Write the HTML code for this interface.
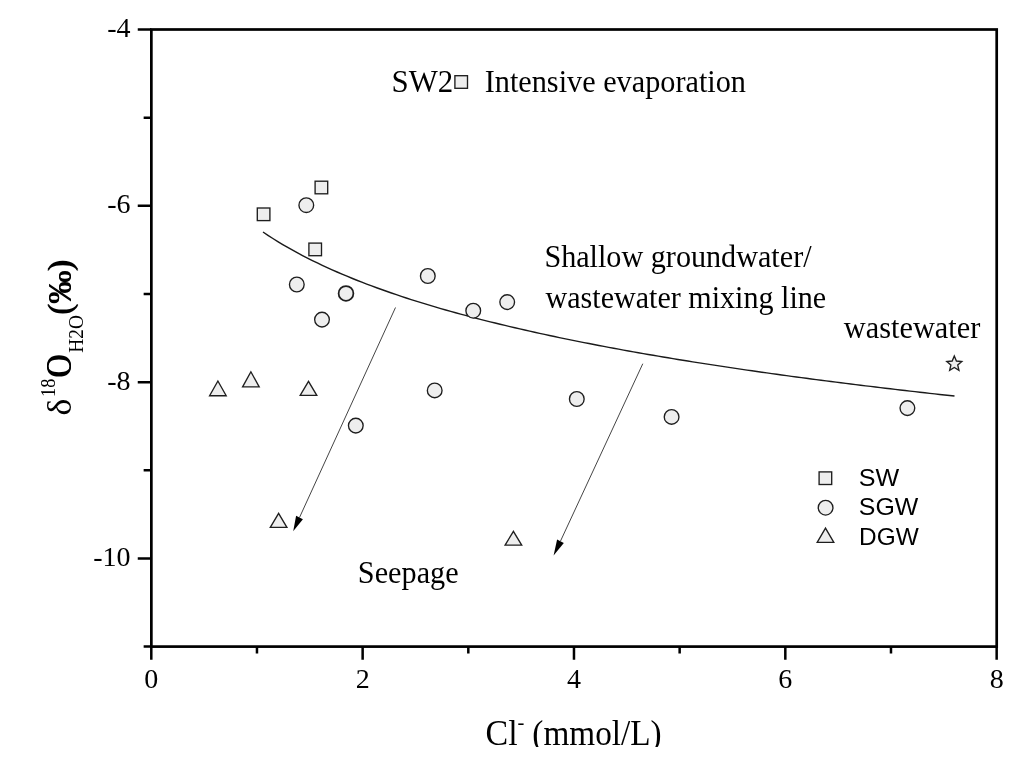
<!DOCTYPE html>
<html><head><meta charset="utf-8"><style>
html,body{margin:0;padding:0;background:#fff;}
svg{display:block;will-change:transform;}
</style></head><body>
<svg width="1024" height="760" viewBox="0 0 1024 760">
<rect width="1024" height="760" fill="#fff"/>
<clipPath id="cb"><rect x="0" y="0" width="1024" height="747"/></clipPath>
<polyline points="263.00,231.99 267.94,235.30 272.88,238.48 277.82,241.56 282.76,244.53 287.70,247.41 292.64,250.20 297.57,252.90 302.51,255.53 307.45,258.08 312.39,260.56 317.33,262.97 322.27,265.32 327.21,267.61 332.15,269.84 337.09,272.01 342.03,274.14 346.97,276.21 351.91,278.24 356.85,280.23 361.79,282.17 366.73,284.07 371.66,285.92 376.60,287.75 381.54,289.53 386.48,291.28 391.42,293.00 396.36,294.68 401.30,296.34 406.24,297.96 411.18,299.55 416.12,301.12 421.06,302.66 426.00,304.17 430.94,305.66 435.88,307.12 440.81,308.56 445.75,309.98 450.69,311.37 455.63,312.75 460.57,314.10 465.51,315.43 470.45,316.75 475.39,318.04 480.33,319.31 485.27,320.57 490.21,321.81 495.15,323.03 500.09,324.24 505.02,325.43 509.96,326.61 514.90,327.77 519.84,328.91 524.78,330.04 529.72,331.16 534.66,332.26 539.60,333.35 544.54,334.42 549.48,335.49 554.42,336.54 559.36,337.58 564.30,338.60 569.24,339.62 574.17,340.62 579.11,341.61 584.05,342.59 588.99,343.56 593.93,344.52 598.87,345.47 603.81,346.41 608.75,347.34 613.69,348.26 618.63,349.17 623.57,350.08 628.51,350.97 633.45,351.85 638.39,352.73 643.33,353.60 648.26,354.45 653.20,355.30 658.14,356.15 663.08,356.98 668.02,357.81 672.96,358.63 677.90,359.44 682.84,360.24 687.78,361.04 692.72,361.83 697.66,362.61 702.60,363.39 707.54,364.16 712.48,364.92 717.41,365.68 722.35,366.43 727.29,367.18 732.23,367.91 737.17,368.65 742.11,369.37 747.05,370.09 751.99,370.81 756.93,371.51 761.87,372.22 766.81,372.92 771.75,373.61 776.69,374.29 781.62,374.98 786.56,375.65 791.50,376.32 796.44,376.99 801.38,377.65 806.32,378.31 811.26,378.96 816.20,379.61 821.14,380.25 826.08,380.89 831.02,381.52 835.96,382.15 840.90,382.77 845.84,383.39 850.77,384.01 855.71,384.62 860.65,385.23 865.59,385.83 870.53,386.43 875.47,387.03 880.41,387.62 885.35,388.21 890.29,388.79 895.23,389.37 900.17,389.95 905.11,390.52 910.05,391.09 914.99,391.65 919.92,392.21 924.86,392.77 929.80,393.33 934.74,393.88 939.68,394.43 944.62,394.97 949.56,395.51 954.50,396.05" fill="none" stroke="#1a1a1a" stroke-width="1.4"/>
<line x1="395.5" y1="307.5" x2="299.50" y2="517.50" stroke="#454545" stroke-width="1.0"/>
<polygon points="293.2,531.3 296.1,515.8 302.9,519.2" fill="#000"/>
<line x1="642.8" y1="363.7" x2="560.45" y2="541.20" stroke="#454545" stroke-width="1.0"/>
<polygon points="553.6,555.4 557.1,539.5 563.8,542.9" fill="#000"/>
<circle cx="306.3" cy="205.2" r="7.35" fill="#eeeeee" stroke="#1e1e1e" stroke-width="1.35"/>
<circle cx="296.8" cy="284.5" r="7.35" fill="#eeeeee" stroke="#1e1e1e" stroke-width="1.35"/>
<circle cx="322" cy="319.6" r="7.35" fill="#eeeeee" stroke="#1e1e1e" stroke-width="1.35"/>
<circle cx="355.8" cy="425.6" r="7.35" fill="#eeeeee" stroke="#1e1e1e" stroke-width="1.35"/>
<circle cx="427.8" cy="276" r="7.35" fill="#eeeeee" stroke="#1e1e1e" stroke-width="1.35"/>
<circle cx="473.25" cy="310.7" r="7.35" fill="#eeeeee" stroke="#1e1e1e" stroke-width="1.35"/>
<circle cx="507.2" cy="302.1" r="7.35" fill="#eeeeee" stroke="#1e1e1e" stroke-width="1.35"/>
<circle cx="434.7" cy="390.4" r="7.35" fill="#eeeeee" stroke="#1e1e1e" stroke-width="1.35"/>
<circle cx="576.8" cy="399" r="7.35" fill="#eeeeee" stroke="#1e1e1e" stroke-width="1.35"/>
<circle cx="671.6" cy="416.9" r="7.35" fill="#eeeeee" stroke="#1e1e1e" stroke-width="1.35"/>
<circle cx="907.4" cy="408.1" r="7.35" fill="#eeeeee" stroke="#1e1e1e" stroke-width="1.35"/>
<circle cx="346" cy="293.4" r="7.4" fill="#eeeeee" stroke="#1e1e1e" stroke-width="1.75"/>
<rect x="257.30" y="208.00" width="12.6" height="12.6" fill="#eeeeee" stroke="#1e1e1e" stroke-width="1.35"/>
<rect x="315.10" y="181.20" width="12.6" height="12.6" fill="#eeeeee" stroke="#1e1e1e" stroke-width="1.35"/>
<rect x="308.90" y="243.10" width="12.6" height="12.6" fill="#eeeeee" stroke="#1e1e1e" stroke-width="1.35"/>
<rect x="454.90" y="75.70" width="12.6" height="12.6" fill="#eeeeee" stroke="#1e1e1e" stroke-width="1.35"/>
<polygon points="217.9,381.00 209.60,395.72 226.20,395.72" fill="#eeeeee" stroke="#1e1e1e" stroke-width="1.35"/>
<polygon points="250.9,371.80 242.60,386.93 259.20,386.93" fill="#eeeeee" stroke="#1e1e1e" stroke-width="1.35"/>
<polygon points="308.5,381.30 300.20,395.32 316.80,395.32" fill="#eeeeee" stroke="#1e1e1e" stroke-width="1.35"/>
<polygon points="278.6,513.30 270.30,527.33 286.90,527.33" fill="#eeeeee" stroke="#1e1e1e" stroke-width="1.35"/>
<polygon points="513.4,531.30 505.10,545.12 521.70,545.12" fill="#eeeeee" stroke="#1e1e1e" stroke-width="1.35"/>
<polygon points="954.30,356.00 956.42,360.99 961.81,361.46 957.72,365.01 958.94,370.29 954.30,367.50 949.66,370.29 950.88,365.01 946.79,361.46 952.18,360.99" fill="#eeeeee" stroke="#1e1e1e" stroke-width="1.35"/>
<rect x="819.10" y="471.90" width="12.6" height="12.6" fill="#eeeeee" stroke="#1e1e1e" stroke-width="1.35"/>
<circle cx="825.6" cy="507.7" r="7.35" fill="#eeeeee" stroke="#1e1e1e" stroke-width="1.35"/>
<polygon points="825.5,528.20 817.20,542.33 833.80,542.33" fill="#eeeeee" stroke="#1e1e1e" stroke-width="1.35"/>
<rect x="151.35" y="29.5" width="845.35" height="617.10" fill="none" stroke="#000" stroke-width="2.7"/>
<path d="M137.75,29.50H151.35M143.65,117.66H151.35M137.75,205.82H151.35M143.65,293.98H151.35M137.75,382.14H151.35M143.65,470.30H151.35M137.75,558.46H151.35M143.65,646.62H151.35M151.30,646.6V659.70M256.97,646.6V653.50M362.64,646.6V659.70M468.31,646.6V653.50M573.98,646.6V659.70M679.65,646.6V653.50M785.32,646.6V659.70M890.99,646.6V653.50M996.66,646.6V659.70" stroke="#000" stroke-width="2.5" fill="none"/>
<text x="130.5" y="37.10" font-family="'Liberation Serif', serif" font-size="28" text-anchor="end">-4</text>
<text x="130.5" y="213.42" font-family="'Liberation Serif', serif" font-size="28" text-anchor="end">-6</text>
<text x="130.5" y="389.74" font-family="'Liberation Serif', serif" font-size="28" text-anchor="end">-8</text>
<text x="130.5" y="566.06" font-family="'Liberation Serif', serif" font-size="28" text-anchor="end">-10</text>
<text x="151.30" y="688.3" font-family="'Liberation Serif', serif" font-size="28" text-anchor="middle">0</text>
<text x="362.64" y="688.3" font-family="'Liberation Serif', serif" font-size="28" text-anchor="middle">2</text>
<text x="573.98" y="688.3" font-family="'Liberation Serif', serif" font-size="28" text-anchor="middle">4</text>
<text x="785.32" y="688.3" font-family="'Liberation Serif', serif" font-size="28" text-anchor="middle">6</text>
<text x="996.66" y="688.3" font-family="'Liberation Serif', serif" font-size="28" text-anchor="middle">8</text>
<text transform="translate(391.53,92.2) scale(0.9633,1)" font-family="'Liberation Serif', serif" font-size="32" font-weight="normal">SW2</text>
<text transform="translate(484.70,92.1) scale(0.9610,1)" font-family="'Liberation Serif', serif" font-size="31.5" font-weight="normal">Intensive evaporation</text>
<text transform="translate(544.38,266.9) scale(0.9578,1)" font-family="'Liberation Serif', serif" font-size="31.5" font-weight="normal">Shallow groundwater/</text>
<text transform="translate(545.50,307.9) scale(0.9768,1)" font-family="'Liberation Serif', serif" font-size="30.8" font-weight="normal">wastewater mixing line</text>
<text transform="translate(843.80,337.7) scale(0.9916,1)" font-family="'Liberation Serif', serif" font-size="30.6" font-weight="normal">wastewater</text>
<text transform="translate(357.87,583.1) scale(0.9453,1)" font-family="'Liberation Serif', serif" font-size="32" font-weight="normal">Seepage</text>
<text transform="translate(858.83,485.8) scale(1.0196,1)" font-family="'Liberation Sans', sans-serif" font-size="24.6" font-weight="normal">SW</text>
<text transform="translate(858.84,515.2) scale(1.0114,1)" font-family="'Liberation Sans', sans-serif" font-size="24.6" font-weight="normal">SGW</text>
<text transform="translate(859.01,545.0) scale(0.9931,1)" font-family="'Liberation Sans', sans-serif" font-size="24.6" font-weight="normal">DGW</text>
<g clip-path="url(#cb)"><text transform="translate(485.54,745.3) scale(0.9710,1)" font-family="'Liberation Serif', serif" font-size="35" font-weight="normal">Cl</text></g>
<g clip-path="url(#cb)"><text transform="translate(532.37,745.3) scale(0.9504,1)" font-family="'Liberation Serif', serif" font-size="35" font-weight="normal">(mmol/L)</text></g>
<text transform="translate(517.53,728.65) scale(1.0286,1)" font-family="'Liberation Serif', serif" font-size="20">-</text>
<text transform="translate(70.7,415.44) rotate(-90) scale(1.0717,1)" font-family="'Liberation Serif', serif" font-size="33.2" font-weight="normal">&#948;</text>
<text transform="translate(54.8,396.91) rotate(-90) scale(0.9200,1)" font-family="'Liberation Serif', serif" font-size="20" font-weight="normal">18</text>
<g transform="translate(71.4,377.75) rotate(-90) scale(0.9032,1)" font-family="'Liberation Serif', serif" font-size="34.8"><text>O</text><text x="1.1">O</text></g>
<text transform="translate(82.7,352.68) rotate(-90) scale(0.9526,1)" font-family="'Liberation Serif', serif" font-size="20.3" font-weight="normal">H2O</text>
<g transform="translate(71.1,314.95) rotate(-90) scale(0.9696,1)" font-family="'Liberation Serif', serif" font-size="33.7"><text>(&#8240;)</text><text x="1.1">(&#8240;)</text></g>
</svg>
</body></html>
